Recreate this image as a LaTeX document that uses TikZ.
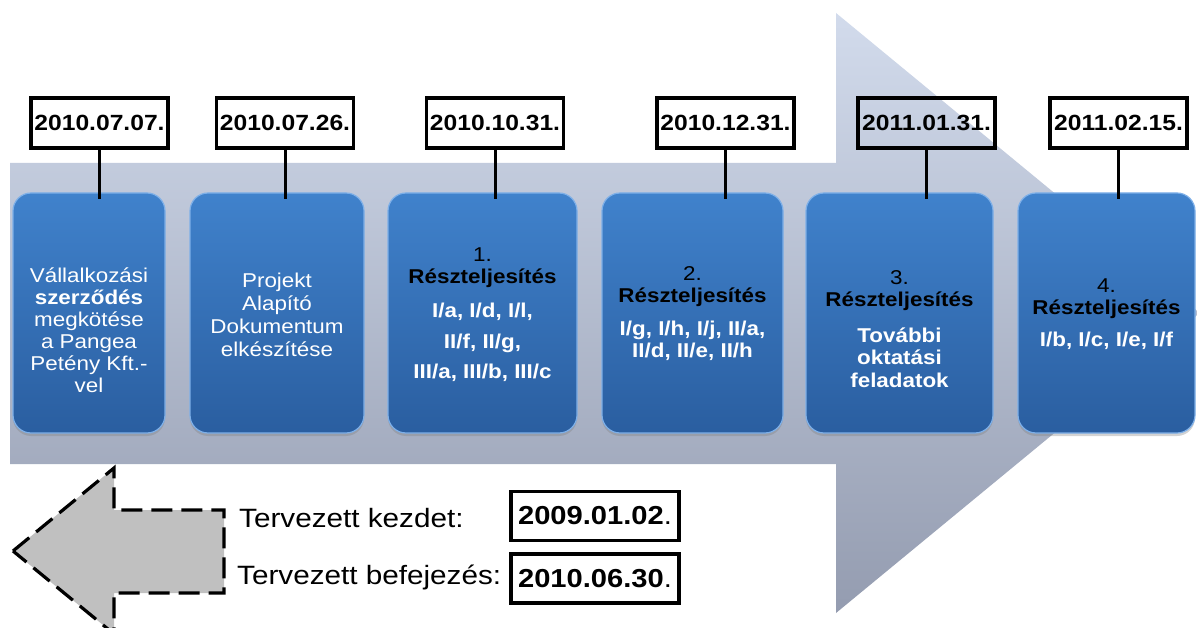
\documentclass[tikz,border=0pt]{standalone}
\usepackage{fontspec}
\setmainfont{Liberation Sans}[FakeStretch=1.12]
\usetikzlibrary{shadows}
\definecolor{arrtop}{RGB}{210,219,236}
\definecolor{arrbot}{RGB}{148,156,176}
\definecolor{bluetop}{RGB}{64,130,204}
\definecolor{bluebot}{RGB}{42,94,160}
\definecolor{blueedge}{RGB}{125,175,232}
\definecolor{greyfill}{RGB}{192,192,192}
\begin{document}
\begin{tikzpicture}[x=1pt,y=-1pt,
  bluebox/.style={rounded corners=18pt, top color=bluetop, bottom color=bluebot,
    draw=blueedge, line width=1.2pt, minimum width=#1, minimum height=240pt, inner sep=0pt,
    drop shadow={shadow xshift=0pt, shadow yshift=-3pt, opacity=0.35}},
  datebox/.style={draw=black, line width=3.5pt, minimum width=137pt, minimum height=50pt,
    inner sep=0pt, font=\bfseries\fontsize{22}{24}\selectfont},
  bigdate/.style={draw=black, line width=3.5pt, minimum width=168pt, minimum height=49pt,
    inner sep=0pt, font=\fontsize{26}{28}\selectfont},
  conn/.style={draw=black, line width=3pt},
  wtext/.style={text=white, align=center, inner sep=0pt},
  btext/.style={text=black, align=center, inner sep=0pt},
  label/.style={anchor=west, inner sep=0pt, font=\fontsize{26.5}{28}\selectfont}
]
\useasboundingbox (0,0) rectangle (1197,628);
\clip (0,0) rectangle (1197,628);

% big background arrow
\path[top color=arrtop, bottom color=arrbot]
  (10,163) -- (836,163) -- (836,13) -- (1200,313) -- (836,613) -- (836,464) -- (10,464) -- cycle;

% blue boxes
\node[bluebox=152pt] (b1) at (89,313) {};
\node[bluebox=174pt] (b2) at (277,313) {};
\node[bluebox=189pt] (b3) at (482.5,313) {};
\node[bluebox=181pt] (b4) at (692.5,313) {};
\node[bluebox=187pt] (b5) at (899.5,313) {};
\node[bluebox=177pt] (b6) at (1106.5,313) {};

% box texts
\node[wtext, font=\fontsize{20}{22}\selectfont] (t1) at (89,330)
  {Vállalkozási\\\textbf{szerződés}\\megkötése\\a Pangea\\Petény Kft.-\\vel};
\node[wtext, font=\fontsize{20}{23}\selectfont] (t2) at (277,314.5)
  {Projekt\\Alapító\\Dokumentum\\elkészítése};

\node[btext, font=\fontsize{20}{22}\selectfont] (h3) at (482.5,268) {1.\\\textbf{Részteljesítés}};
\node[wtext, font=\bfseries\fontsize{20}{30.5}\selectfont] (l3) at (482.5,342.5)
  {I/a, I/d, I/l,\\II/f, II/g,\\III/a, III/b, III/c};

\node[btext, font=\fontsize{20}{22}\selectfont] (h4) at (692.5,286.5) {2.\\\textbf{Részteljesítés}};
\node[wtext, font=\bfseries\fontsize{20}{22}\selectfont] (l4) at (692.5,341)
  {I/g, I/h, I/j, II/a,\\II/d, II/e, II/h};

\node[btext, font=\fontsize{20}{22}\selectfont] (h5) at (899.5,291) {3.\\\textbf{Részteljesítés}};
\node[wtext, font=\bfseries\fontsize{20}{22.5}\selectfont] (l5) at (899.5,357.5)
  {További\\oktatási\\feladatok};

\node[btext, font=\fontsize{20}{22}\selectfont] (h6) at (1106.5,299) {4.\\\textbf{Részteljesítés}};
\node[wtext, font=\bfseries\fontsize{20}{22}\selectfont] (l6) at (1106.5,341)
  {I/b, I/c, I/e, I/f};

% date boxes
\node[datebox] (d1) at (99.5,123) {2010.07.07.};
\node[datebox] (d2) at (285,123) {2010.07.26.};
\node[datebox] (d3) at (495,123) {2010.10.31.};
\node[datebox] (d4) at (725.5,123) {2010.12.31.};
\node[datebox] (d5) at (926.5,123) {2011.01.31.};
\node[datebox] (d6) at (1118.5,123) {2011.02.15.};

\foreach \i in {1,...,6}{
  \draw[conn] (d\i.south) -- ([yshift=-7pt]d\i.south |- b\i.north);
}

% dashed left arrow
\draw[fill=greyfill, draw=black, line width=3.2pt, dash pattern=on 21pt off 9pt]
  (13,551) -- (114,468) -- (114,510) -- (224,510) -- (224,593) -- (114,593) -- (114,634) -- cycle;

% planned dates
\node[label] (k) at (239,518) {Tervezett kezdet:};
\node[label] (f) at (237,577) {Tervezett befejezés:};
\node[bigdate] (s1) at (595,516) {\textbf{2009.01.02}.};
\node[bigdate] (s2) at (595,578.5) {\textbf{2010.06.30}.\hspace{20pt}};
\end{tikzpicture}
\end{document}
